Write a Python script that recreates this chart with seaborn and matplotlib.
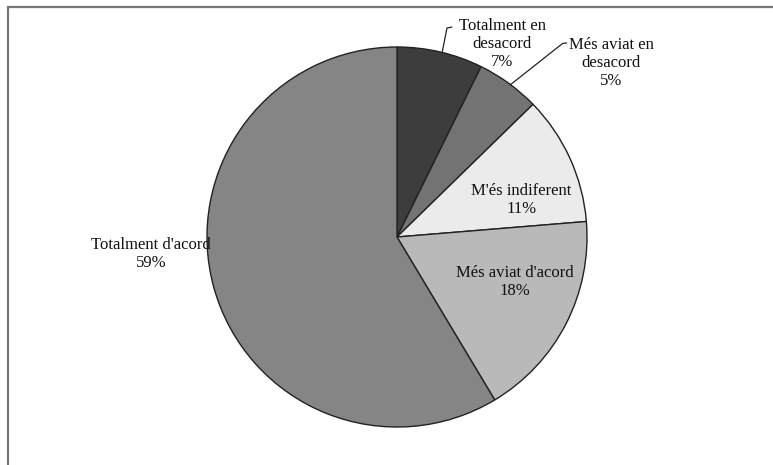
import matplotlib
matplotlib.use("Agg")
import matplotlib.pyplot as plt
from matplotlib.lines import Line2D
import seaborn as sns

# data (clockwise from 12 o'clock)
categories = ["Totalment en\ndesacord", "Més aviat en\ndesacord", "M'és indiferent",
              "Més aviat d'acord", "Totalment d'acord"]
shares = [7.3, 5.4, 11.0, 17.7, 58.6]
colors = ["#3d3d3d", "#737373", "#ebebeb", "#b9b9b9", "#858585"]

sns.set_theme(style="white")
plt.rcParams["font.family"] = ["Liberation Serif", "DejaVu Serif"]

fig = plt.figure(figsize=(7.73, 4.65), dpi=100)
ax = fig.add_axes([0, 0, 1, 1])

ax.pie(shares, colors=colors, startangle=90, counterclock=False,
       wedgeprops=dict(edgecolor="#222222", linewidth=1.0))

# 1 unit = 190 px, pie centre at (397, 237) px
ax.set_xlim(-397 / 190, (773 - 397) / 190)
ax.set_ylim((237 - 465) / 190, 237 / 190)
ax.set_aspect("equal")
ax.axis("off")

# label placement (text centre in pie units)
label_pos = [(0.553, 1.016), (1.126, 0.916), (0.653, 0.195),
             (0.621, -0.237), (-1.295, -0.089)]
for name, val, (x, y) in zip(categories, shares, label_pos):
    ax.text(x, y, f"{name}\n{round(val)}%", ha="center", va="center",
            fontsize=12, color="#111111", linespacing=1.2)

# leader lines for the two small outer labels
leaders = [[(0.237, 0.968), (0.263, 1.100), (0.289, 1.105)],
           [(0.595, 0.800), (0.872, 1.019), (0.893, 1.021)]]
for pts in leaders:
    xs, ys = zip(*pts)
    ax.plot(xs, ys, color="#222222", lw=0.9)

# chart-area frame (top and left edges visible in the crop)
fig.add_artist(Line2D([8 / 773, 1], [1 - 7 / 465, 1 - 7 / 465],
                      transform=fig.transFigure, color="#777777", lw=1.6))
fig.add_artist(Line2D([8 / 773, 8 / 773], [0, 1 - 7 / 465],
                      transform=fig.transFigure, color="#777777", lw=1.6))

fig.savefig("out.png", dpi=100, facecolor="white")
